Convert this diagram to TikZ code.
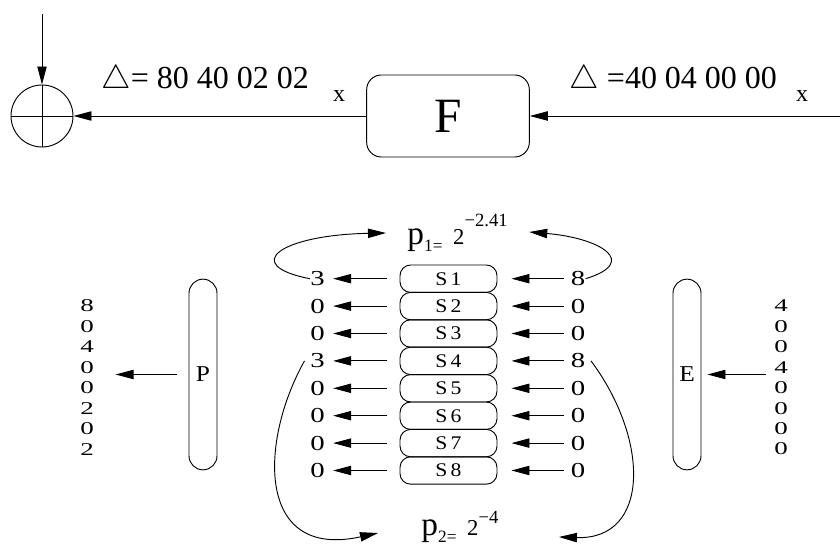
\documentclass[tikz,border=0pt]{standalone}
\usepackage{fontspec}
\setmainfont{Liberation Serif}
\newfontfamily\rowfont[FakeStretch=1.35]{Liberation Serif}
\newfontfamily\colfont[FakeStretch=1.5]{Liberation Serif}
\newfontfamily\boxfont[FakeStretch=1.12]{Liberation Serif}
\usetikzlibrary{arrows.meta,positioning,math}

\tikzset{
  arr/.style={-{Triangle[length=13.5pt,width=7pt]}},
  sbox/.style={draw,rounded corners=8pt,minimum width=72.75pt,minimum height=20.55pt,inner sep=0pt,font=\boxfont\fontsize{14.5}{14.5}\selectfont},
  vbox/.style={draw,rounded corners=10.5pt,minimum width=21pt,minimum height=143pt,inner sep=0pt,font=\boxfont\fontsize{17}{17}\selectfont},
  digit/.style={inner sep=0pt,font=\rowfont\fontsize{16}{16}\selectfont},
  column/.style={inner sep=0pt,align=center,font=\colfont\fontsize{13.5}{15.35}\selectfont},
  big/.style={inner sep=0pt,anchor=base west,font=\fontsize{24}{24}\selectfont},
  small/.style={inner sep=0pt,anchor=base,font=\fontsize{18}{18}\selectfont},
  prob/.style={inner sep=0pt,anchor=base west,font=\fontsize{25}{25}\selectfont},
}
\newcommand\lowidx[1]{\raisebox{-5pt}{\fontsize{13}{13}\selectfont #1=}}
\newcommand\twopow[2]{{\fontsize{17}{17}\selectfont 2\raisebox{#1}{\fontsize{14}{14}\selectfont #2}}}

\begin{document}
\begin{tikzpicture}[x=0.75pt,y=-0.75pt,line width=0.7pt]
  \tikzmath{
    real \rowh, \rowtop;
    \rowh=27.4;
    \rowtop=251.3;
  }
  \useasboundingbox (0,0) rectangle (840,545);

  \node[draw,circle,minimum size=46.5pt,inner sep=0pt] (xor) at (42,116) {};
  \draw (xor.north) -- (xor.south);
  \draw (xor.west) -- (xor.east);
  \coordinate (key) at (42,14);
  \draw[arr] (key) -- (xor.north);

  \node[draw,rounded corners=11pt,minimum width=122pt,minimum height=61.5pt,font=\fontsize{37}{37}\selectfont] (F) at (448,116) {F};
  \coordinate (din) at (840,116);
  \draw[arr] (din) -- (F);
  \draw[arr] (F) -- (xor);

  \node[big] (dout) at (101,89) {$\triangle$= 80 40 02 02};
  \node[small] (xout) at (339,102) {x};
  \node[big] (dinl) at (569,89) {$\triangle$ =40 04 00 00};
  \node[small] (xin) at (802,102) {x};

  \foreach \l/\r [count=\i] in {3/8,0/0,0/0,3/8,0/0,0/0,0/0,0/0} {
    \node[sbox] (s\i) at (448.5,\rowtop+\rowh*\i) {S\,\i};
    \node[digit] (l\i) at (317.5,\rowtop+\rowh*\i) {\l};
    \node[digit] (r\i) at (578,\rowtop+\rowh*\i) {\r};
    \draw[arr,shorten <=9.75pt,shorten >=6pt] (s\i) -- (l\i);
    \draw[arr,shorten <=5pt,shorten >=10.5pt] (r\i) -- (s\i);
  }

  \node[prob] (p1) at (407,245) {p\lowidx{1}\hspace{8pt}\twopow{13.5pt}{−2.41}};
  \node[prob] (p2) at (421,536) {p\lowidx{2}\hspace{8pt}\twopow{9pt}{−4}};

  \draw[arr] (l1.west) .. controls (240,265) and (280,235) .. ([shift={(-21,-12)}]p1.base west);
  \draw[arr] (r1.east) .. controls (640,262) and (600,238) .. ([shift={(21,-13)}]p1.base east);
  \draw[arr] ([xshift=-4pt]l4.west) .. controls (260,440) and (255,560) .. ([shift={(-43,-3)}]p2.base west);
  \draw[arr] ([xshift=4pt]r4.east) .. controls (650,440) and (650,540) .. ([shift={(60,1)}]p2.base east);

  \node[vbox] (P) at (203,374.5) {P};
  \node[vbox] (E) at (687,374.5) {E};
  \node[column] (pout) at (87,377.5) {8\\0\\4\\0\\0\\2\\0\\2};
  \node[column] (ein) at (781,377.5) {4\\0\\0\\4\\0\\0\\0\\0};
  \draw[arr,shorten <=9pt,shorten >=16pt] (P.west) -- (P.west -| pout.east);
  \draw[arr,shorten <=6pt,shorten >=4.5pt] (ein.west |- E.east) -- (E.east);
\end{tikzpicture}
\end{document}
